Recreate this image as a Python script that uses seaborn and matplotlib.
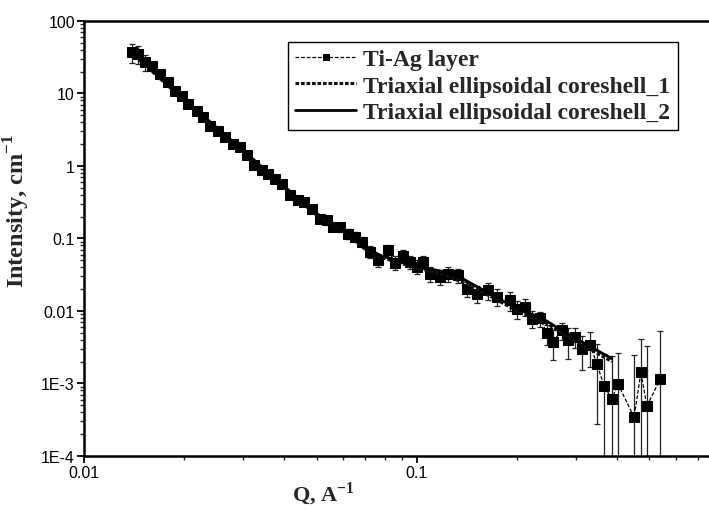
import numpy as np
import pandas as pd
import matplotlib
matplotlib.use("Agg")
import matplotlib.pyplot as plt
import seaborn as sns
from matplotlib.ticker import FixedLocator, FixedFormatter, LogLocator, NullFormatter

# ---- data ----
q_data = [0.01390, 0.01453, 0.01525, 0.01598, 0.01692, 0.01789, 0.01877, 0.01966, 0.02054,
          0.02182, 0.02279, 0.02391, 0.02527, 0.02653, 0.02804, 0.02943, 0.03083, 0.03243,
          0.03420, 0.03573, 0.03750, 0.03929, 0.04160, 0.04398, 0.04585, 0.04835, 0.05120,
          0.05364, 0.05603, 0.05883, 0.06219, 0.06524, 0.06834, 0.07237, 0.07650, 0.08200,
          0.08604, 0.09077, 0.09548, 0.1000, 0.1045, 0.1096, 0.1175, 0.1242, 0.1331, 0.1413,
          0.1515, 0.1638, 0.1740, 0.1907, 0.1998, 0.2116, 0.2216, 0.2348, 0.2459, 0.2569,
          0.2729, 0.2850, 0.2991, 0.3133, 0.3318, 0.3475, 0.3656, 0.3855, 0.4027, 0.4499,
          0.4712, 0.4912, 0.5387]
i_data = [37.1, 35.1, 27.2, 24.2, 18.6, 14.4, 10.9, 9.35, 7.19,
          5.81, 4.76, 3.61, 3.08, 2.52, 2.02, 1.84, 1.40, 1.04,
          0.867, 0.781, 0.667, 0.569, 0.393, 0.335, 0.321, 0.257, 0.1875,
          0.1775, 0.1455, 0.142, 0.1164, 0.1059, 0.0904, 0.0658, 0.0499, 0.0686,
          0.0464, 0.0580, 0.0479, 0.0409, 0.048, 0.0327, 0.0298, 0.0327, 0.0310, 0.0204,
          0.0174, 0.0193, 0.0158, 0.0140, 0.0108, 0.0115, 0.00785, 0.0079, 0.00489, 0.00379,
          0.00542, 0.00395, 0.00444, 0.00303, 0.00337, 0.00188, 0.00091, 0.00062, 0.00097, 0.00034,
          0.00143, 0.000487, 0.00115]
err_data = [11, 10, 6.5, 2.4, 1.5, 1.1, 0.8, 0.65, 0.5,
            0.4, 0.33, 0.25, 0.21, 0.17, 0.14, 0.13, 0.1, 0.075,
            0.06, 0.055, 0.05, 0.045, 0.035, 0.03, 0.03, 0.03, 0.025,
            0.025, 0.02, 0.02, 0.018, 0.017, 0.015, 0.012, 0.01, 0.013,
            0.01, 0.012, 0.01, 0.009, 0.01, 0.008, 0.007, 0.008, 0.007, 0.005,
            0.0045, 0.005, 0.004, 0.004, 0.003, 0.003, 0.002, 0.0018, 0.0015, 0.0017,
            0.0014, 0.0018, 0.0014, 0.0015, 0.0017, 0.0016, 0.0016, 0.0018, 0.0017, 0.0021,
            0.0027, 0.0028, 0.0041]

q_fit = [0.0139, 0.020, 0.030, 0.040, 0.050, 0.060, 0.069, 0.078, 0.098, 0.120, 0.138,
         0.166, 0.205, 0.235, 0.2825, 0.3855]
i_fit1 = [36.0, 8.0, 1.6, 0.50, 0.21, 0.13, 0.074, 0.055, 0.040, 0.032, 0.0245,
          0.0160, 0.0094, 0.0076, 0.0045, 0.0020]
i_fit2 = [37.0, 8.3, 1.65, 0.52, 0.22, 0.135, 0.077, 0.058, 0.042, 0.035, 0.0275,
          0.0172, 0.0101, 0.0082, 0.0049, 0.0022]

labels = ["Ti-Ag layer", "Triaxial ellipsoidal coreshell_1", "Triaxial ellipsoidal coreshell_2"]
ytick_vals = [1e-4, 1e-3, 1e-2, 1e-1, 1, 10, 100]
ytick_labels = ["1E-4", "1E-3", "0.01", "0.1", "1", "10", "100"]
xtick_vals = [0.01, 0.1]
xtick_labels = ["0.01", "0.1"]

sns.set_theme(style="ticks")
plt.rcParams["font.family"] = ["Liberation Sans", "DejaVu Sans"]
plt.rcParams["mathtext.fontset"] = "custom"
plt.rcParams["mathtext.rm"] = "Liberation Serif"
plt.rcParams["mathtext.bf"] = "Liberation Serif:bold"

fig = plt.figure(figsize=(7.09, 5.10), dpi=100)
ax = fig.add_axes([0.1185, 0.104, 0.8815, 0.853])

df = pd.DataFrame({"q": q_data, "i": i_data})
dfit = pd.DataFrame({"q": q_fit, "f1": i_fit1, "f2": i_fit2})

ax.errorbar(q_data, i_data, yerr=err_data, fmt="none", ecolor="#222222",
            elinewidth=0.9, capsize=2.2, capthick=0.9, zorder=2)
sns.lineplot(data=df, x="q", y="i", ax=ax, sort=False, color="black",
             marker="s", markersize=7, markeredgecolor="black",
             linestyle=(0, (3, 1.5)), linewidth=0.9, label=labels[0], zorder=3)
sns.lineplot(data=dfit, x="q", y="f1", ax=ax, sort=False, color="#111111",
             linestyle=(0, (1.2, 0.6)), linewidth=2.2, label=labels[1], zorder=4)
sns.lineplot(data=dfit, x="q", y="f2", ax=ax, sort=False, color="black",
             linewidth=2.0, label=labels[2], zorder=4)

ax.set_xscale("log")
ax.set_yscale("log")
ax.set_xlim(0.01, 0.755)
ax.set_ylim(1e-4, 100)

ax.yaxis.set_major_locator(FixedLocator(ytick_vals))
ax.yaxis.set_major_formatter(FixedFormatter(ytick_labels))
ax.yaxis.set_minor_locator(LogLocator(base=10, subs=np.arange(2, 10), numticks=20))
ax.yaxis.set_minor_formatter(NullFormatter())
ax.xaxis.set_major_locator(FixedLocator(xtick_vals))
ax.xaxis.set_major_formatter(FixedFormatter(xtick_labels))
ax.xaxis.set_minor_locator(LogLocator(base=10, subs=np.arange(2, 10), numticks=20))
ax.xaxis.set_minor_formatter(NullFormatter())

ax.tick_params(which="major", direction="out", length=5, width=1.3, labelsize=11.5,
               colors="black", pad=1.5)
ax.tick_params(which="minor", direction="out", length=3, width=1.0)
ax.tick_params(top=False, right=False, which="both")

for side in ["left", "bottom", "top"]:
    ax.spines[side].set_linewidth(1.8)
    ax.spines[side].set_color("black")
ax.spines["right"].set_visible(False)

serif = ["Liberation Serif", "DejaVu Serif"]
ax.set_xlabel(r"Q, A$^{\mathbf{-1}}$", fontsize=16, fontweight="bold", family=serif)
ax.set_ylabel(r"Intensity, cm$^{\mathbf{-1}}$", fontsize=17.5, fontweight="bold", family=serif)
ax.xaxis.set_label_coords(0.383, -0.055)
ax.yaxis.set_label_coords(-0.083, 0.565)

leg = ax.legend(loc="upper left", bbox_to_anchor=(0.326, 0.952), frameon=True,
                fancybox=False, edgecolor="black", framealpha=1, borderpad=0.3,
                borderaxespad=0.0, handlelength=2.6, handletextpad=0.3, labelspacing=0.2,
                markerscale=0.7,
                prop={"family": serif, "weight": "bold", "size": 17})
leg.get_frame().set_linewidth(1.0)

fig.savefig("out.png", dpi=100)
